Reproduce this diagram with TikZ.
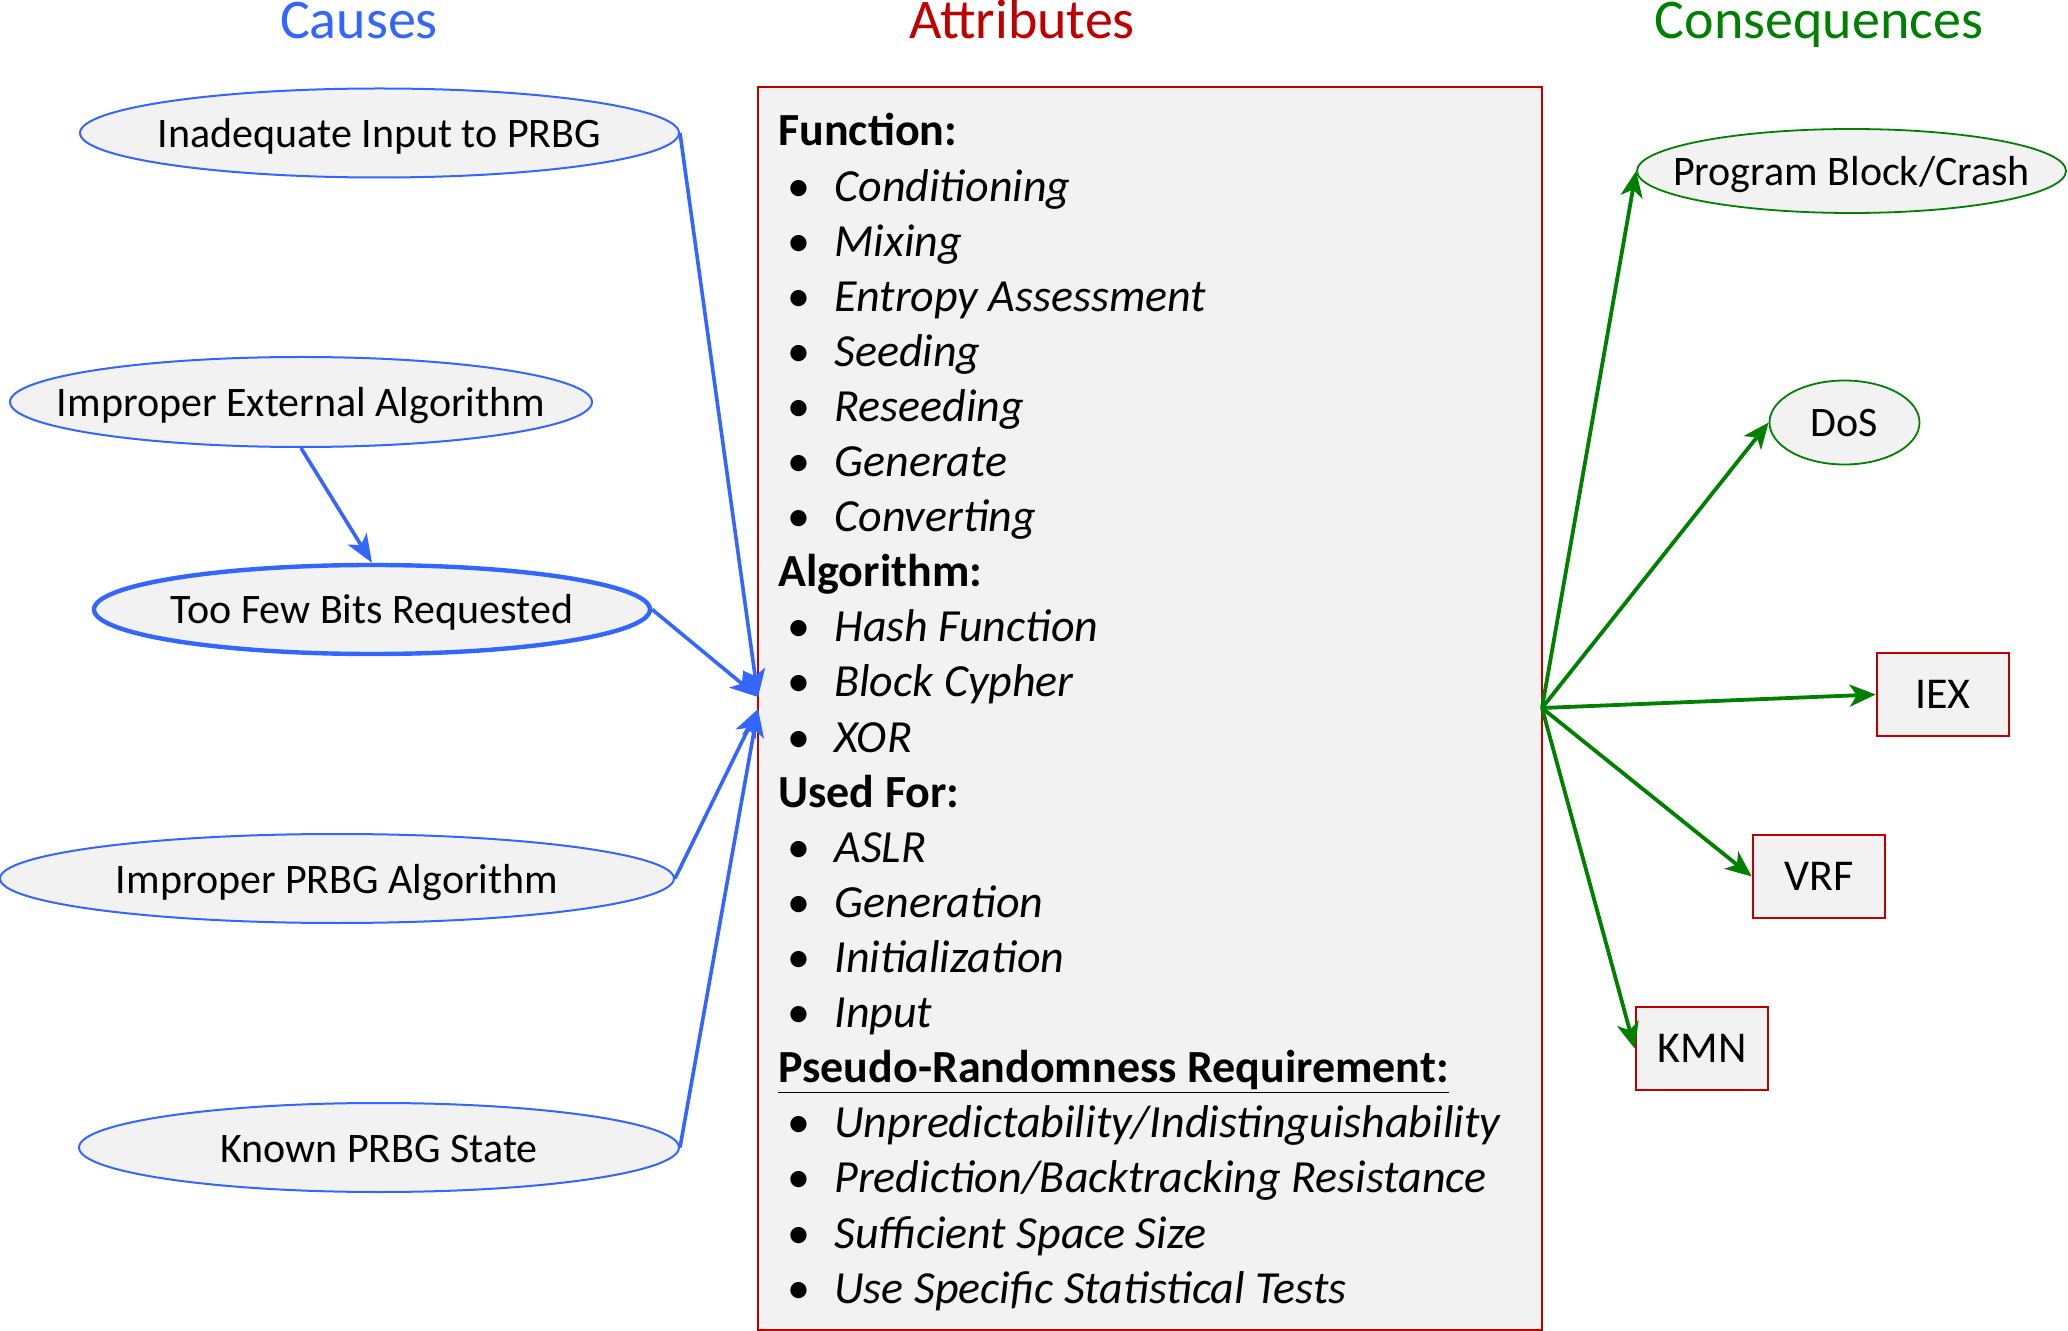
\documentclass[tikz,border=0pt]{standalone}
\usepackage{fontspec}
\setmainfont{Carlito}
\usetikzlibrary{shapes.geometric,arrows.meta}
\definecolor{cblue}{HTML}{3366FF}
\definecolor{cred}{HTML}{C00000}
\definecolor{cgreen}{HTML}{008000}
\definecolor{cfill}{HTML}{F2F2F2}
\newcommand\bul{\llap{\makebox[0pt][c]{\upshape\textbullet}\hspace{17.5pt}}}
\newcommand\ctr[1]{\makebox[0pt][c]{#1}}
\begin{document}
\begin{tikzpicture}[x=0.5pt,y=-0.5pt,
  ellfont/.style={font=\fontsize{21}{25}\selectfont, text height=14.5pt, text depth=0pt},
  titlefont/.style={font=\fontsize{28}{34}\selectfont, anchor=base},
  causeell/.style={ellipse, draw=cblue, fill=cfill, line width=1pt, inner sep=0pt, ellfont},
  conseqell/.style={ellipse, draw=cgreen, fill=cfill, line width=0.9pt, inner sep=0pt, ellfont},
  conseqbox/.style={rectangle, draw=cred, fill=cfill, line width=1.3pt, minimum width=66pt, minimum height=41.5pt, inner sep=0pt, font=\fontsize{22}{26}\selectfont},
  attrbox/.style={rectangle, draw=cred, fill=cfill, line width=1pt, inner sep=0pt},
  hd/.style={anchor=base west, inner sep=0pt, font=\fontsize{23}{27}\selectfont\bfseries},
  itm/.style={anchor=base west, inner sep=0pt, font=\fontsize{23}{27}\selectfont\itshape},
  barrow/.style={draw=cblue, line width=1.8pt, -{Stealth[length=14pt,width=11pt,inset=3.5pt]}},
  garrow/.style={draw=cgreen, line width=1.9pt, -{Stealth[length=13pt,width=11pt,inset=3.5pt]}}
]
\useasboundingbox (0,0) rectangle (2068,1331);

% titles
\node[titlefont, text=cblue] (tcauses) at (359,39) {Causes};
\node[titlefont, text=cred] (tattr) at (1022,39) {Attributes};
\node[titlefont, text=cgreen] (tcons) at (1819,39) {Consequences};

% attributes box
\node[attrbox, minimum width=392pt, minimum height=621.5pt] (attr) at (1150,708.5) {};
\node[hd] (a1) at (778,146) {Function:};
\node[itm] (a2) at (834,201.1) {\bul Conditioning};
\node[itm] (a3) at (834,256.2) {\bul Mixing};
\node[itm] (a4) at (834,311.3) {\bul Entropy Assessment};
\node[itm] (a5) at (834,366.4) {\bul Seeding};
\node[itm] (a6) at (834,421.5) {\bul Reseeding};
\node[itm] (a7) at (834,476.6) {\bul Generate};
\node[itm] (a8) at (834,531.7) {\bul Converting};
\node[hd] (a9) at (778,586.8) {Algorithm:};
\node[itm] (a10) at (834,641.9) {\bul Hash Function};
\node[itm] (a11) at (834,697.0) {\bul Block Cypher};
\node[itm] (a12) at (834,752.1) {\bul XOR};
\node[hd] (a13) at (778,807.2) {Used For:};
\node[itm] (a14) at (834,862.3) {\bul ASLR};
\node[itm] (a15) at (834,917.4) {\bul Generation};
\node[itm] (a16) at (834,972.5) {\bul Initialization};
\node[itm] (a17) at (834,1027.6) {\bul Input};
\node[hd] (a18) at (778,1082.7) {\underline{Pseudo-Randomness Requirement:}};
\node[itm] (a19) at (834,1137.8) {\bul Unpredictability/Indistinguishability};
\node[itm] (a20) at (834,1192.9) {\bul Prediction/Backtracking Resistance};
\node[itm] (a21) at (834,1248.0) {\bul Sufficient Space Size};
\node[itm] (a22) at (834,1303.1) {\bul Use Specific Statistical Tests};

% causes
\node[causeell, minimum width=299.5pt, minimum height=44.5pt] (c1) at (379.5,133) {\ctr{Inadequate Input to PRBG}};
\node[causeell, minimum width=291pt, minimum height=45pt] (c2) at (301,402) {\ctr{Improper External Algorithm}};
\node[causeell, line width=2.2pt, minimum width=278pt, minimum height=44.5pt] (c3) at (372,609.5) {\ctr{Too Few Bits Requested}};
\node[causeell, minimum width=337pt, minimum height=44.5pt] (c4) at (337,878.5) {\ctr{Improper PRBG Algorithm}};
\node[causeell, minimum width=300pt, minimum height=44.5pt] (c5) at (379,1147.5) {\ctr{Known PRBG State}};

% consequences
\node[conseqell, minimum width=214.5pt, minimum height=42pt] (k1) at (1851.5,171) {\ctr{Program Block/Crash}};
\node[conseqell, minimum width=75pt, minimum height=42pt] (k2) at (1844.5,422.5) {\ctr{DoS}};
\node[conseqbox] (k3) at (1943,694.5) {IEX};
\node[conseqbox] (k4) at (1819,876.5) {VRF};
\node[conseqbox] (k5) at (1702,1048.5) {KMN};

% cause arrows
\coordinate (tinA) at (758,697);
\coordinate (tinB) at (758,709);
\draw[barrow] (c1.east) -- (tinA);
\draw[barrow] (c3.east) -- (tinA);
\draw[barrow] (c4.east) -- (tinB);
\draw[barrow] (c5.east) -- (tinB);
\draw[barrow] (c2.south) -- (c3.north);

% consequence arrows
\coordinate (gsrc) at (1542,708);
\draw[garrow] (gsrc) -- (k1.west);
\draw[garrow] (gsrc) -- (k2.west);
\draw[garrow] (gsrc) -- (k3.west);
\draw[garrow] (gsrc) -- (k4.west);
\draw[garrow] (gsrc) -- (k5.west);
\end{tikzpicture}
\end{document}
